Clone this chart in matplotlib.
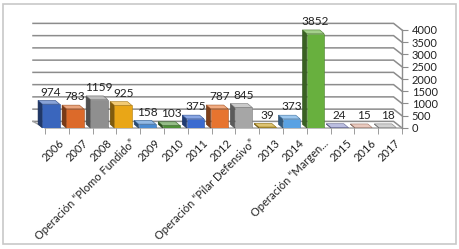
import numpy as np
import matplotlib
matplotlib.use('Agg')
import matplotlib.pyplot as plt
from matplotlib.patches import Polygon, Rectangle
from matplotlib.colors import to_rgb

CATEGORIES = [
    '2006', '2007', '2008', 'Operación “Plomo Fundido”', '2009', '2010',
    '2011', '2012', 'Operación “Pilar Defensivo”', '2013', '2014',
    'Operación “Margen...', '2015', '2016', '2017'
]
VALUES = [974, 783, 1159, 925, 158, 103, 375, 787, 845, 39, 373, 3852, 24, 15, 18]
COLORS = [
    '#3a66bd', '#dc6a2a', '#8f8f8f', '#e9a617', '#4a8bd2', '#4e8f38',
    '#3b6bd0', '#e7742f', '#a6a6a6', '#c79b14', '#5aa2e3', '#68b03e',
    '#8e92cc', '#dba592', '#b2b2b2'
]
Y_TICKS = [0, 500, 1000, 1500, 2000, 2500, 3000, 3500, 4000]

GRID = '#8c8c8c'
BAR_W = 0.72
DX, DY = -0.18, 150       # bar depth (drawn up-left)
WX, WY = -0.35, 270       # back wall offset

plt.rcParams['font.family'] = ['Lato', 'DejaVu Sans']

fig = plt.figure(figsize=(4.6, 2.49), dpi=100)
fig.patches.append(Rectangle((0.007, 0.02), 0.984, 0.965, transform=fig.transFigure,
                             fill=False, edgecolor='#c8c8c8', lw=1.2))
ax = fig.add_axes([33 / 460, 1 - 128 / 249, 369 / 460, 98 / 249])
ax.set_xlim(-0.75, 14.6)
ax.set_ylim(0, 4000)
xl, xr = ax.get_xlim()
xf = -0.25

# back wall gridlines bending to the right axis
for v in Y_TICKS:
    ax.plot([xl, xr + WX, xr], [v + WY, v + WY, v], color=GRID, lw=1.1,
            zorder=1, clip_on=False, solid_joinstyle='miter')
# floor
ax.plot([xl, xf, xr], [WY, 0, 0], color='#a0a0a0', lw=1.0, zorder=1, clip_on=False)

x = np.arange(len(VALUES))
for i, v in enumerate(VALUES):
    c = np.array(to_rgb(COLORS[i]))
    x0, x1 = i - BAR_W / 2, i + BAR_W / 2
    ax.bar(i, v, width=BAR_W, color=c, edgecolor=c * 0.75, lw=0.4, zorder=3)
    side = [(x0, 0), (x0, v), (x0 + DX, v + DY), (x0 + DX, DY)]
    top = [(x0, v), (x1, v), (x1 + DX, v + DY), (x0 + DX, v + DY)]
    ax.add_patch(Polygon(side, closed=True, fc=c * 0.55, ec=c * 0.45, lw=0.4,
                         zorder=2, clip_on=False))
    ax.add_patch(Polygon(top, closed=True, fc=c * 0.6 + 0.4, ec=c * 0.7, lw=0.4,
                         zorder=3, clip_on=False))
    ax.annotate(str(v), (i, v + DY), xytext=(0, 2), textcoords='offset points',
                ha='center', va='bottom', fontsize=8.5, color='#222222', zorder=5)

for s in ['top', 'left', 'bottom']:
    ax.spines[s].set_visible(False)
ax.spines['right'].set_color(GRID)
ax.spines['right'].set_linewidth(1.0)

ax.yaxis.tick_right()
ax.set_yticks(Y_TICKS)
ax.tick_params(axis='y', direction='out', length=4, color=GRID, labelsize=8,
               pad=3, labelcolor='#222222')

ax.set_xticks(x + 0.3)
ax.set_xticklabels(CATEGORIES, rotation=45, ha='right', va='top',
                   rotation_mode='anchor', fontsize=8, color='#222222')
ax.set_xticks(np.linspace(xf, xr, 16), minor=True)
ax.tick_params(axis='x', which='major', length=0, pad=7)
ax.tick_params(axis='x', which='minor', direction='out', length=4, color=GRID)

fig.savefig('out.png', dpi=100)
